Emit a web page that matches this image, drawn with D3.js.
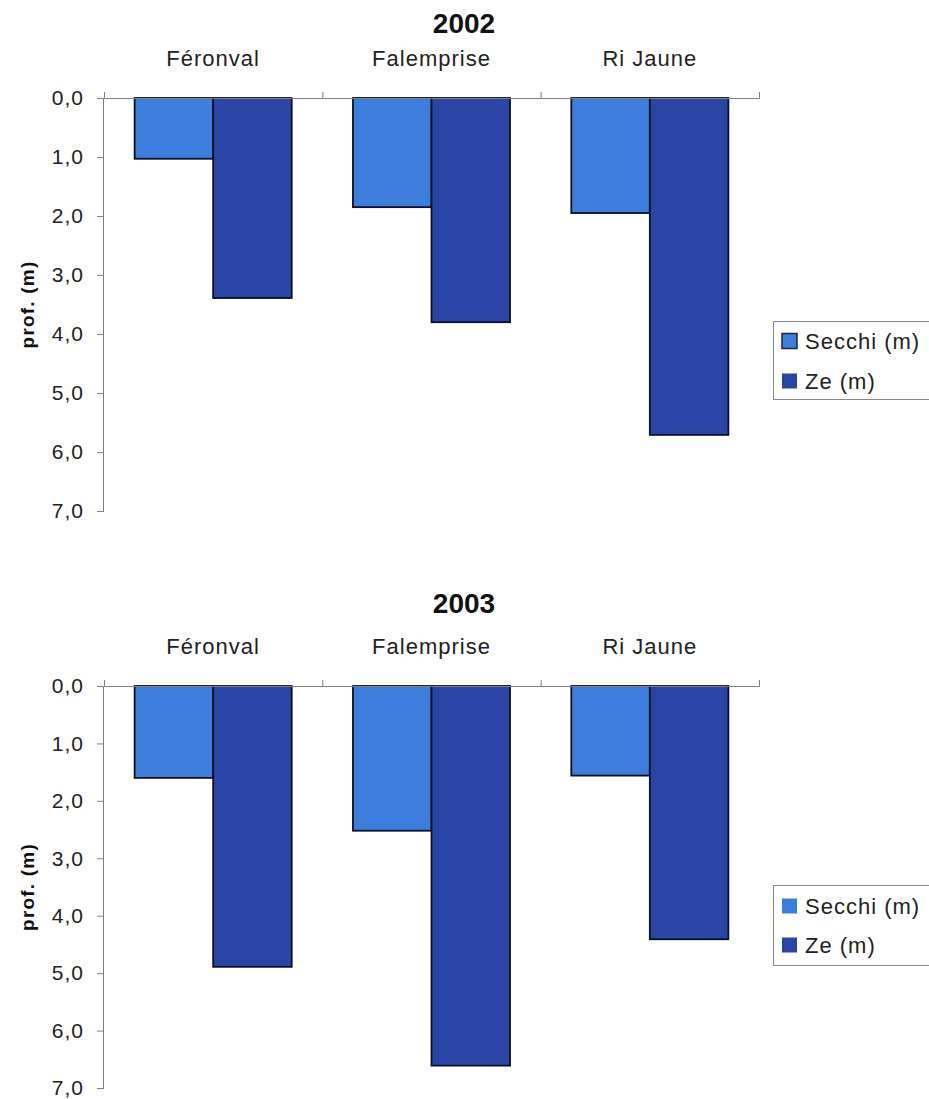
<!DOCTYPE html>
<html>
<head>
<meta charset="utf-8">
<script src="https://cdn.jsdelivr.net/npm/d3@7"></script>
<style>
  html, body { margin: 0; padding: 0; background: #fff; }
  svg { display: block; font-family: "Liberation Sans", Arial, sans-serif; }
</style>
</head>
<body>
<svg id="chart" width="929" height="1099"></svg>
<script>
// ---- data ----
const categories = ["Féronval", "Falemprise", "Ri Jaune"];
const seriesNames = ["Secchi (m)", "Ze (m)"];
const years = ["2002", "2003"];
const secchi2002 = [1.03, 1.85, 1.95];
const ze2002 = [3.39, 3.80, 5.71];
const secchi2003 = [1.60, 2.52, 1.56];
const ze2003 = [4.89, 6.61, 4.41];
const yTicks = [0, 1, 2, 3, 4, 5, 6, 7];
const yLabel = "prof. (m)";

const colors = ["#3d7ddb", "#2b45a4"];

// ---- layout (per panel) ----
const panels = [
  { year: years[0], values: [secchi2002, ze2002], y0: 98, y7: 511, titleY: 33, catY: 66,
    legTop: 321, legBot: 399, legItems: [341, 381], swatchStroke: true },
  { year: years[1], values: [secchi2003, ze2003], y0: 686, y7: 1088, titleY: 613, catY: 654,
    legTop: 885, legBot: 965, legItems: [906, 945], swatchStroke: false }
];

const svg = d3.select("#chart");
const xLeft = 104, xRight = 759;
const fmt = v => d3.format(".1f")(v).replace(".", ",");

panels.forEach(p => {
  const g = svg.append("g");
  const y = d3.scaleLinear().domain([0, 7]).range([p.y0, p.y7]);
  const x0 = d3.scaleBand().domain(categories).range([xLeft, xRight]).padding(0);
  const x1 = d3.scaleBand().domain(seriesNames).range([0, x0.bandwidth()]).paddingInner(0).paddingOuter(0.39);
  const xIdx = d3.scaleLinear().domain([0, categories.length]).range([xLeft, xRight]);

  // title
  g.append("text").attr("x", 464).attr("y", p.titleY).attr("text-anchor", "middle")
    .attr("font-size", 28).attr("font-weight", "bold").attr("fill", "#111").text(p.year);

  // category labels
  g.selectAll("text.cat").data(categories).enter().append("text")
    .attr("class", "cat")
    .attr("x", d => x0(d) + x0.bandwidth() / 2)
    .attr("y", p.catY)
    .attr("text-anchor", "middle")
    .attr("font-size", 22).attr("letter-spacing", "1px").attr("fill", "#222")
    .text(d => d);

  // bars
  const rows = categories.map((c, i) => ({ cat: c, vals: seriesNames.map((s, j) => ({ s, j, v: p.values[j][i] })) }));
  const grp = g.selectAll("g.grp").data(rows).enter().append("g")
    .attr("transform", d => `translate(${x0(d.cat)},0)`);
  grp.selectAll("rect").data(d => d.vals).enter().append("rect")
    .attr("x", d => x1(d.s))
    .attr("y", y(0))
    .attr("width", x1.bandwidth())
    .attr("height", d => y(d.v) - y(0))
    .attr("fill", d => colors[d.j])
    .attr("stroke", "#0a1028").attr("stroke-width", 1.8);

  // y axis
  const yAxis = d3.axisLeft(y).tickValues(yTicks).tickSize(7).tickPadding(13).tickFormat(fmt);
  const ya = g.append("g").attr("transform", `translate(${xLeft},0)`).call(yAxis);
  ya.select(".domain").attr("stroke", "#808080").attr("d", `M-0.5,${y(0)}V${y(7)}`);
  ya.selectAll(".tick line").attr("stroke", "#808080");
  ya.selectAll(".tick text").attr("font-size", 21).attr("letter-spacing", "1px")
    .attr("fill", "#222").attr("font-family", "\"Liberation Sans\", Arial, sans-serif");

  // x axis (top, at zero)
  const xAxis = d3.axisTop(xIdx).tickValues(d3.range(categories.length + 1)).tickSize(6).tickFormat("");
  const xa = g.append("g").attr("transform", `translate(0,${y(0)})`).call(xAxis);
  xa.select(".domain").attr("stroke", "#808080");
  xa.selectAll(".tick line").attr("stroke", "#808080");
  xa.selectAll(".tick").filter(d => d === 0).remove();

  // y label
  g.append("text")
    .attr("transform", `translate(27,${(y(0) + y(7)) / 2}) rotate(-90)`)
    .attr("text-anchor", "middle").attr("dominant-baseline", "central")
    .attr("font-size", 19).attr("font-weight", "bold").attr("letter-spacing", "1.2px").attr("fill", "#111")
    .text(yLabel);

  // legend
  g.append("rect").attr("x", 773.5).attr("y", p.legTop + 0.5).attr("width", 170)
    .attr("height", p.legBot - p.legTop).attr("fill", "#fff").attr("stroke", "#8a8a8a");
  const li = g.selectAll("g.leg").data(seriesNames).enter().append("g")
    .attr("transform", (d, i) => `translate(782,${p.legItems[i]})`);
  li.append("rect").attr("x", 0).attr("y", -7.5).attr("width", 15).attr("height", 15)
    .attr("fill", (d, i) => colors[i])
    .attr("stroke", (d, i) => (p.swatchStroke && i === 0) ? "#1a2650" : "none")
    .attr("stroke-width", 1.5);
  li.append("text").attr("x", 23).attr("y", 0).attr("dominant-baseline", "central")
    .attr("font-size", 22).attr("letter-spacing", "1px").attr("fill", "#222").text(d => d);
});
</script>
</body>
</html>
